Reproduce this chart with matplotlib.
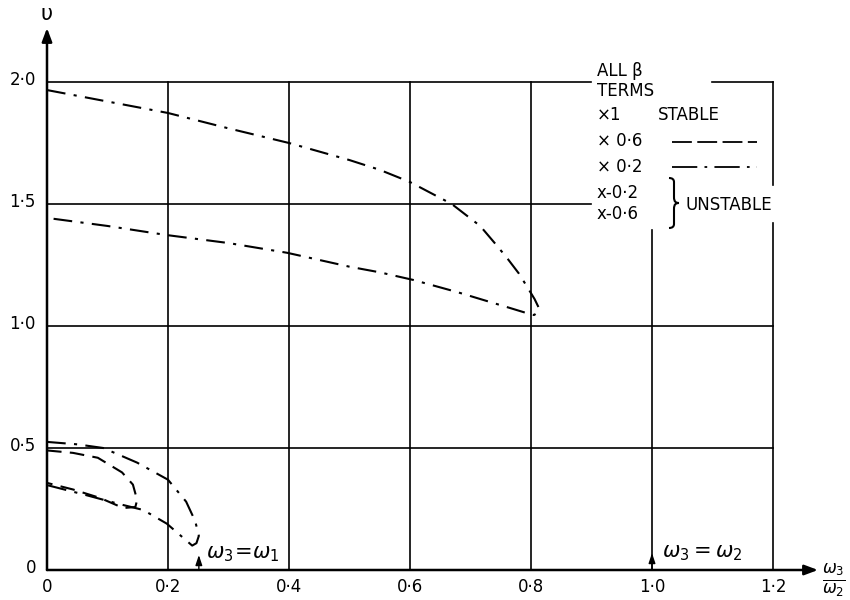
import matplotlib
matplotlib.use("Agg")
import matplotlib.pyplot as plt
from matplotlib.patches import FancyArrowPatch, PathPatch
from matplotlib.path import Path

# ---------------- data ----------------
x_ticks = [0, 0.2, 0.4, 0.6, 0.8, 1.0, 1.2]
x_tick_labels = ["0", "0\u00b72", "0\u00b74", "0\u00b76", "0\u00b78", "1\u00b70", "1\u00b72"]
y_ticks = [0, 0.5, 1.0, 1.5, 2.0]
y_tick_labels = ["0", "0\u00b75", "1\u00b70", "1\u00b75", "2\u00b70"]

# large loop (dash-dot)
big_x = [0.0, 0.1, 0.2, 0.3, 0.4, 0.5, 0.55, 0.6, 0.669, 0.716, 0.74, 0.76,
         0.78, 0.795, 0.806, 0.813, 0.811, 0.805, 0.798, 0.765, 0.678, 0.605,
         0.55, 0.5, 0.397, 0.3, 0.197, 0.1, 0.0]
big_v = [1.967, 1.92, 1.873, 1.81, 1.75, 1.68, 1.64, 1.59, 1.5, 1.41, 1.34, 1.28,
         1.215, 1.155, 1.11, 1.074, 1.055, 1.045, 1.049, 1.074, 1.139, 1.189,
         1.22, 1.243, 1.30, 1.34, 1.373, 1.41, 1.443]

# small inner loop (dashed)
inner_x = [0.0, 0.043, 0.084, 0.124, 0.142, 0.149, 0.146, 0.126, 0.088, 0.043, 0.0]
inner_v = [0.49, 0.48, 0.46, 0.40, 0.35, 0.287, 0.258, 0.254, 0.295, 0.33, 0.357]

# small outer loop (dash-dot)
outer_x = [0.0, 0.05, 0.093, 0.149, 0.2, 0.23, 0.245, 0.251, 0.247, 0.24, 0.198,
           0.159, 0.12, 0.06, 0.0]
outer_v = [0.525, 0.515, 0.50, 0.44, 0.37, 0.28, 0.2, 0.14, 0.11, 0.10, 0.19,
           0.246, 0.27, 0.31, 0.348]

# ---------------- figure ----------------
W, H = 850, 600
X0, XS = 47, 605.0      # pixel of x=0, pixels per unit
Y0, YS = 570, 244.0     # pixel (from top) of v=0, pixels per unit

def px(p):
    return (p - X0) / XS

def py(p):
    return (Y0 - p) / YS

fig = plt.figure(figsize=(8.5, 6), dpi=100)
ax = fig.add_axes([0, 0, 1, 1])
ax.set_xlim(px(0), px(W))
ax.set_ylim(py(H), py(0))
ax.axis("off")

FONT = "DejaVu Sans"
FS = 12
lc = "black"
glw = 1.2

# grid lines (broken where the legend sits)
ax.plot([0, px(591)], [2.0, 2.0], color=lc, lw=glw)
ax.plot([px(712), 1.2], [2.0, 2.0], color=lc, lw=glw)
ax.plot([0, px(591)], [1.5, 1.5], color=lc, lw=glw)
ax.plot([0, 1.2], [1.0, 1.0], color=lc, lw=glw)
ax.plot([0, 1.2], [0.5, 0.5], color=lc, lw=glw)
for xv in [0.2, 0.4, 0.6, 0.8]:
    ax.plot([xv, xv], [0, 2.0], color=lc, lw=glw)
ax.plot([1.0, 1.0], [0, py(230)], color=lc, lw=glw)
ax.plot([1.2, 1.2], [py(185), 2.0], color=lc, lw=glw)
ax.plot([1.2, 1.2], [0, py(223)], color=lc, lw=glw)

# axes with arrows
ax.add_patch(FancyArrowPatch((0, 0), (px(818), 0), arrowstyle="-|>,head_length=8,head_width=3",
                             color=lc, lw=1.8, mutation_scale=1, shrinkA=0, shrinkB=0))
ax.add_patch(FancyArrowPatch((0, 0), (0, py(28)), arrowstyle="-|>,head_length=8,head_width=3",
                             color=lc, lw=1.8, mutation_scale=1, shrinkA=0, shrinkB=0))

# small up arrows at omega3 = omega1 and omega3 = omega2
ax.add_patch(FancyArrowPatch((0.251, 0), (0.251, py(555)), arrowstyle="-|>,head_length=6,head_width=2",
                             color=lc, lw=1.0, mutation_scale=1, shrinkA=0, shrinkB=0))
ax.add_patch(FancyArrowPatch((1.0, 0), (1.0, py(553)), arrowstyle="-|>,head_length=6,head_width=2",
                             color=lc, lw=1.0, mutation_scale=1, shrinkA=0, shrinkB=0))

# tick labels
for xv, lab in zip(x_ticks, x_tick_labels):
    ax.text(xv, py(587), lab, ha="center", va="center", fontsize=FS, family=FONT)
for yv, lab in zip(y_ticks, y_tick_labels):
    ax.text(px(36), yv + 0.01, lab, ha="right", va="center", fontsize=FS, family=FONT)

# axis labels
ax.text(0.0, py(14), "\u03c5", ha="center", va="center", fontsize=15, family=FONT)
ax.text(px(834), py(580), r"$\frac{\omega_3}{\omega_2}$", ha="center", va="center", fontsize=17)

# annotations
ax.text(px(206), py(554), r"$\omega_3\!=\!\omega_1$", ha="left", va="center", fontsize=15)
ax.text(px(662), py(553), r"$\omega_3 = \omega_2$", ha="left", va="center", fontsize=15)

# curves
dashdot = (0, (9, 4, 1.5, 4))
dashed = (0, (7, 4))
ax.plot(big_x, big_v, color=lc, lw=1.5, linestyle=dashdot)
ax.plot(inner_x, inner_v, color=lc, lw=1.5, linestyle=dashed)
ax.plot(outer_x, outer_v, color=lc, lw=1.5, linestyle=dashdot)

# legend block
lx = px(597)
ax.text(lx, py(71), "ALL \u03b2", ha="left", va="center", fontsize=FS, family=FONT)
ax.text(lx, py(91), "TERMS", ha="left", va="center", fontsize=FS, family=FONT)
ax.text(lx, py(115), "\u00d71", ha="left", va="center", fontsize=FS, family=FONT)
ax.text(px(658), py(115), "STABLE", ha="left", va="center", fontsize=FS, family=FONT)
ax.text(lx, py(141), "\u00d7 0\u00b76", ha="left", va="center", fontsize=FS, family=FONT)
ax.text(lx, py(167), "\u00d7 0\u00b72", ha="left", va="center", fontsize=FS, family=FONT)
ax.text(lx, py(193), "x-0\u00b72", ha="left", va="center", fontsize=FS, family=FONT)
ax.text(lx, py(214), "x-0\u00b76", ha="left", va="center", fontsize=FS, family=FONT)
ax.plot([px(672), px(757)], [py(142), py(142)], color=lc, lw=1.3, linestyle=(0, (11, 3)))
ax.plot([px(672), px(757)], [py(167), py(167)], color=lc, lw=1.3, linestyle=(0, (14, 4, 1.5, 4)))

# curly brace drawn as a path (pixel coords converted)
bx, btop, bmid, bbot = 671, 178, 203, 228
verts = [(bx - 2, btop), (bx + 3, btop), (bx + 3, btop + 4), (bx + 3, bmid - 6),
         (bx + 3, bmid - 1), (bx + 5, bmid), (bx + 8, bmid),
         (bx + 5, bmid), (bx + 3, bmid + 1), (bx + 3, bmid + 6),
         (bx + 3, bbot - 4), (bx + 3, bbot), (bx - 2, bbot)]
verts = [(px(a), py(b)) for a, b in verts]
codes = [Path.MOVETO, Path.CURVE3, Path.CURVE3, Path.LINETO, Path.CURVE4, Path.CURVE4, Path.CURVE4,
         Path.CURVE4, Path.CURVE4, Path.CURVE4, Path.LINETO, Path.CURVE3, Path.CURVE3]
ax.add_patch(PathPatch(Path(verts, codes), facecolor="none", edgecolor=lc, lw=1.5))
ax.text(px(686), py(205), "UNSTABLE", ha="left", va="center", fontsize=FS, family=FONT)

fig.savefig("out.png", dpi=100)
